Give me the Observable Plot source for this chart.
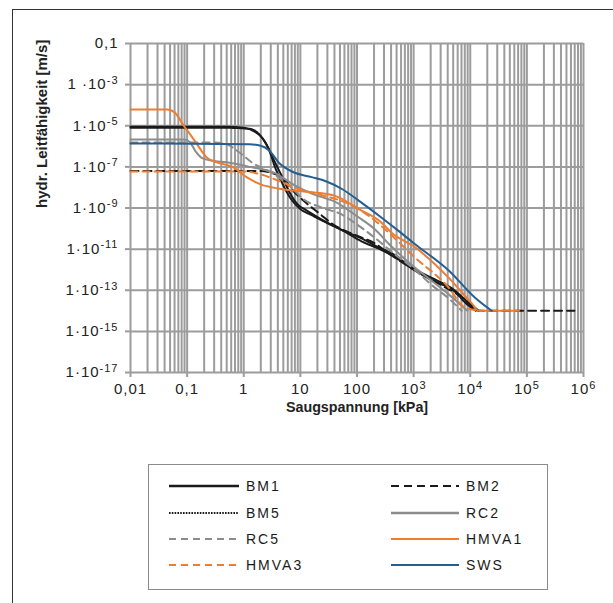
<!DOCTYPE html>
<html><head><meta charset="utf-8">
<script src="https://cdn.jsdelivr.net/npm/d3@7"></script>
<script src="https://cdn.jsdelivr.net/npm/@observablehq/plot@0.6"></script>
<style>
body{margin:0;background:#fff;font-family:"Liberation Sans",Arial,sans-serif;}
#wrap{position:relative;width:613px;height:603px;overflow:hidden;background:#fff;}
#chart{position:absolute;left:0;top:0;}
#frame{position:absolute;left:12px;top:9px;width:700px;height:700px;border-top:1.5px solid #333;border-left:1.5px solid #333;pointer-events:none;}
#legend{position:absolute;left:148px;top:464px;width:398px;height:124px;border:1px solid #8a8a8a;background:#fff;}
.item{position:absolute;height:20px;display:flex;align-items:center;font-size:14px;letter-spacing:2px;color:#1a1a1a;white-space:nowrap;}
.item svg{margin-right:7px;}
</style></head><body>
<div id="wrap"><div id="chart"></div><div id="legend"></div><div id="frame"></div></div>
<script>
// Series values: [log10 Saugspannung (kPa), log10 hydr. Leitfähigkeit (m/s)]
const BM1 = [[-2,-5.05],[-0.3,-5.05],[0.0,-5.1],[0.2,-5.3],[0.33,-5.6],[0.43,-6.06],[0.52,-6.6],[0.61,-7.1],[0.7,-7.6],[0.8,-8.2],[0.96,-8.85],[1.1,-9.1],[1.37,-9.55],[1.72,-10.05],[2.13,-10.55],[2.4,-10.95],[2.61,-11.2],[2.97,-11.9],[3.32,-12.4],[3.67,-12.9],[3.97,-13.6],[4.15,-14]];
const BM2 = [[-2,-7.2],[0.3,-7.2],[0.5,-7.3],[0.7,-7.55],[0.87,-8.15],[1.1,-8.75],[1.35,-9.3],[1.55,-9.75],[2.0,-10.35],[2.3,-10.7],[2.56,-11.2],[2.97,-11.94],[3.5,-12.77],[3.85,-13.35],[4.08,-13.9],[4.15,-14],[5.84,-14]];
const BM5 = [[-2,-5.1],[-0.3,-5.1],[0.1,-5.15],[0.3,-5.5],[0.45,-6.2],[0.55,-7.0],[0.68,-7.8],[0.82,-8.5],[1.0,-9.05],[1.2,-9.35],[1.45,-9.7],[1.75,-10.1],[2.1,-10.65],[2.4,-11.0],[2.7,-11.45],[3.0,-12.0],[3.35,-12.55],[3.7,-13.0],[3.95,-13.7],[4.1,-14]];
const RC2 = [[-2,-5.67],[-1.05,-5.67],[-0.95,-5.8],[-0.85,-6.25],[-0.75,-6.55],[-0.6,-6.68],[-0.3,-6.78],[0.1,-7.0],[0.55,-7.3],[0.9,-7.9],[1.2,-8.3],[1.65,-8.75],[2.0,-9.4],[2.3,-10.0],[2.6,-10.85],[3.0,-11.85],[3.3,-12.5],[3.62,-13.2],[3.95,-14]];
const RC5 = [[-2,-5.82],[-0.5,-5.82],[-0.3,-5.9],[-0.1,-6.25],[0.15,-6.8],[0.5,-7.3],[0.8,-7.9],[1.07,-8.6],[1.4,-9.0],[1.72,-9.3],[2.0,-9.8],[2.31,-10.44],[2.6,-11.1],[3.02,-12.0],[3.3,-12.7],[3.62,-13.4],[3.85,-14]];
const HMVA1 = [[-2,-4.21],[-1.35,-4.21],[-1.22,-4.35],[-1.06,-5.0],[-0.9,-5.6],[-0.8,-6.0],[-0.65,-6.55],[-0.45,-6.8],[-0.2,-7.0],[0.05,-7.5],[0.3,-7.85],[0.6,-8.05],[1.15,-8.22],[1.6,-8.4],[2.03,-9.05],[2.43,-9.7],[2.61,-10.2],[3.02,-10.9],[3.62,-12.4],[4.03,-13.65],[4.15,-14],[4.86,-14]];
const HMVA3 = [[-2,-7.22],[0.0,-7.22],[0.2,-7.3],[0.4,-7.45],[0.6,-7.66],[1.0,-8.1],[1.4,-8.4],[1.72,-8.65],[2.0,-9.0],[2.31,-9.6],[2.6,-10.3],[3.02,-11.4],[3.62,-12.87],[3.9,-13.84],[4.2,-14]];
const SWS = [[-2,-5.86],[0.1,-5.9],[0.3,-5.97],[0.45,-6.2],[0.62,-6.8],[0.87,-7.25],[1.2,-7.5],[1.45,-7.7],[1.75,-8.1],[2.03,-8.64],[2.43,-9.46],[2.75,-10.15],[3.02,-10.75],[3.62,-12.04],[4.08,-13.35],[4.38,-14]];

const seriesNames = ["BM1","BM2","BM5","RC2","RC5","HMVA1","HMVA3","SWS"];
const seriesData = [BM1,BM2,BM5,RC2,RC5,HMVA1,HMVA3,SWS];
const seriesColors = ["#1a1a1a","#1a1a1a","#1a1a1a","#8c8c8c","#8c8c8c","#ED7D31","#ED7D31","#255E91"];
const seriesDash = [null,"8,5","1.6,1.2",null,"7,5",null,"7,5",null];
const legendOrder = ["BM1","BM2","BM5","RC2","RC5","HMVA1","HMVA3","SWS"];

const xTicks = [0.01,0.1,1,10,100,1e3,1e4,1e5,1e6];
const xTickLabels = ["0,01","0,1","1","10","100","10^3","10^4","10^5","10^6"];
const yTicks = [1e-1,1e-3,1e-5,1e-7,1e-9,1e-11,1e-13,1e-15,1e-17];
const yTickLabels = ["0,1","1 ·10^-3","1·10^-5","1·10^-7","1·10^-9","1·10^-11","1·10^-13","1·10^-15","1·10^-17"];

// minor vertical grid positions (1..9 per decade)
const xGrid = [];
for (let k = -2; k <= 5; k++) for (let m = 1; m <= 9; m++) xGrid.push(+(m + "e" + k));
xGrid.push(1e6);

const rows = [];
seriesNames.forEach((name, i) => seriesData[i].forEach(([lx, ly]) => rows.push({name, x: Math.pow(10, lx), y: Math.pow(10, ly)})));

const xFmt = new Map(xTicks.map((d, i) => [d, xTickLabels[i]]));
const yFmt = new Map(yTicks.map((d, i) => [d, yTickLabels[i]]));

const gridColor = "#9c9c9c";
const marks = [
  Plot.ruleX(xGrid, {x: d => d, stroke: gridColor, strokeWidth: 2}),
  Plot.ruleY(yTicks, {y: d => d, stroke: gridColor, strokeWidth: 2}),
  Plot.axisX(xTicks, {tickFormat: d => xFmt.get(d), tickSize: 5, tickPadding: 6, stroke: gridColor, strokeWidth: 2, fill: "#222", fontSize: 15, label: null}),
  Plot.axisY(yTicks, {tickFormat: d => yFmt.get(d), tickSize: 5, tickPadding: 7, stroke: gridColor, strokeWidth: 2, fill: "#222", fontSize: 15, label: null}),
];
seriesNames.forEach((name, i) => {
  marks.push(Plot.line(rows.filter(r => r.name === name), {
    x: "x", y: "y", stroke: seriesColors[i], strokeWidth: 2,
    strokeDasharray: seriesDash[i] || undefined, curve: "monotone-x"
  }));
});
marks.push(Plot.text(["Saugspannung [kPa]"], {text: d => d, frameAnchor: "bottom", dy: 39, fontWeight: "bold", fontSize: 14.3, fill: "#222"}));
marks.push(Plot.text(["hydr. Leitfähigkeit [m/s]"], {text: d => d, frameAnchor: "left", rotate: -90, dx: -88, fontWeight: "bold", fontSize: 15, fill: "#222"}));

const chart = Plot.plot({
  width: 613, height: 430,
  marginLeft: 130, marginRight: 30, marginTop: 43, marginBottom: 58,
  x: {type: "log", domain: [0.01, 1e6]},
  y: {type: "log", domain: [1e-17, 0.1]},
  style: {fontFamily: "'Liberation Sans', Arial, sans-serif", fontSize: "15px", background: "transparent", color: "#222"},
  marks
});

// tick label spacing and superscripts for exponents
chart.querySelectorAll('g[aria-label$="tick label"] text').forEach(t => t.setAttribute("letter-spacing", "1"));
chart.querySelectorAll("text").forEach(t => {
  const s = t.textContent;
  if (s.includes("^")) {
    const [base, exp] = s.split("^");
    t.textContent = "";
    const ns = "http://www.w3.org/2000/svg";
    const a = document.createElementNS(ns, "tspan"); a.textContent = base; t.appendChild(a);
    const b = document.createElementNS(ns, "tspan"); b.textContent = exp;
    b.setAttribute("dy", "-0.5em"); b.setAttribute("font-size", "11px"); t.appendChild(b);
  }
});
document.getElementById("chart").appendChild(chart);

// legend
const legend = document.getElementById("legend");
const rowTops = [11, 38, 64, 90];
legendOrder.forEach((name, k) => {
  const i = seriesNames.indexOf(name);
  const col = k % 2, row = Math.floor(k / 2);
  const div = document.createElement("div");
  div.className = "item";
  div.style.left = (col === 0 ? 20 : 242) + "px";
  div.style.top = rowTops[row] + "px";
  const w = col === 0 ? 70 : 68;
  div.innerHTML = `<svg width="${w}" height="6"><line x1="0" y1="3" x2="${w}" y2="3" stroke="${seriesColors[i]}" stroke-width="${name === "BM1" || name === "RC2" ? 2.5 : 2}" ${seriesDash[i] ? `stroke-dasharray="${seriesDash[i]}"` : ""}/></svg><span>${name}</span>`;
  legend.appendChild(div);
});
</script>
</body></html>
